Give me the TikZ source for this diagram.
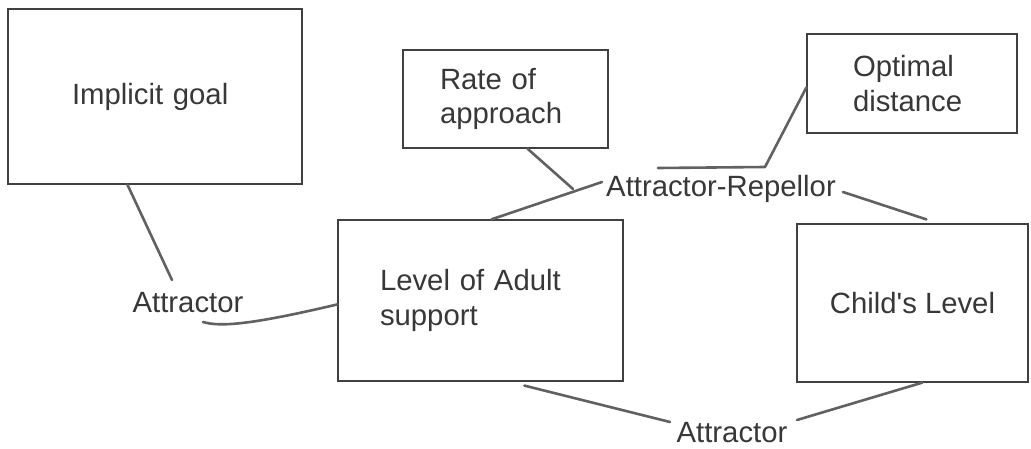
\documentclass[tikz,border=0pt]{standalone}
\usepackage{fontspec}
\setmainfont{Liberation Sans}
\usetikzlibrary{calc}
\tikzset{
  txt/.style={font=\fontsize{29.3}{34.5}\selectfont, text=black!78, inner sep=0pt},
  boxnode/.style={txt, draw=black!75, line width=1.2pt, inner ysep=0pt, align=left},
  conn/.style={draw=black!62, line width=2.6pt, line cap=round, line join=round}
}
\begin{document}
\begin{tikzpicture}[x=1pt,y=-1pt]
\fill[white] (0,0) rectangle (1031,449);
\useasboundingbox (0,0) rectangle (1031,449);

% boxes
\node[boxnode, minimum width=294pt, minimum height=175pt, inner xsep=64pt, text width=166pt] (goal) at (155,96.5) {Implicit goal};
\node[boxnode, minimum width=205pt, minimum height=98pt, inner xsep=37pt, text width=131pt] (rate) at (505.5,99) {Rate of\\approach};
\node[boxnode, minimum width=210pt, minimum height=99pt, inner xsep=46pt, text width=118pt] (opt) at (912,83.5) {Optimal\\distance};
\node[boxnode, minimum width=285pt, minimum height=161pt, inner xsep=42pt, text width=201pt] (level) at (480.5,300.5) {Level of Adult\\support};
\node[boxnode, align=center, minimum width=231pt, minimum height=158pt, inner xsep=0pt] (child) at (912.5,303) {Child\textquotesingle s Level};

% relation labels
\node[txt, anchor=base] (attrL) at (188,312) {Attractor};
\node[txt, anchor=base] (attrB) at (732,442) {Attractor};
\node[txt, anchor=base] (ar) at (721,197) {Attractor-Repellor};

% connectors
\draw[conn] ($(goal.south west)+(120,0)$) -- ($(attrL.base)+(-16,-32)$);
\draw[conn] ($(attrL.base)+(15,10)$) .. controls ($(attrL.base)+(32,15)$) and ($(attrL.base)+(62,13)$) .. ($(level.north west)+(0,85)$);
\draw[conn] ($(level.north west)+(154,0)$) -- ($(ar.base)+(-119,-15)$);
\draw[conn] ($(rate.south west)+(125,0)$) -- ($(ar.base)+(-148,-8)$);
\draw[conn] ($(opt.north west)+(0,54)$) -- ($(ar.base)+(44,-30)$) -- ($(ar.base)+(-63,-29)$);
\draw[conn] ($(ar.base)+(122,-5)$) -- ($(child.north west)+(130,-4)$);
\draw[conn] ($(level.south west)+(187,4)$) -- ($(attrB.base)+(-62,-20)$);
\draw[conn] ($(child.south west)+(126,0)$) -- ($(attrB.base)+(65,-22)$);
\end{tikzpicture}
\end{document}
